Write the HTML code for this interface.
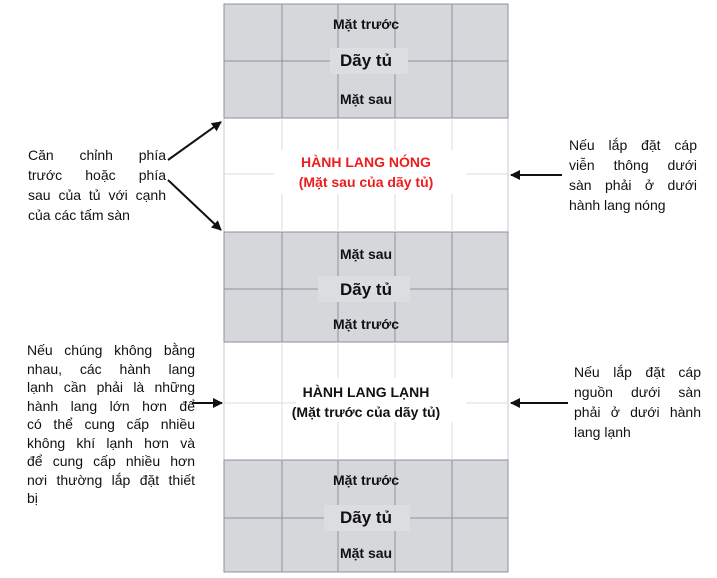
<!DOCTYPE html>
<html><head><meta charset="utf-8"><style>
body{margin:0;width:717px;height:578px;background:#fff;position:relative;overflow:hidden;font-family:"Liberation Sans",Arial,sans-serif;}
.t{position:absolute;font-size:14px;color:#111;}
.t div{height:20px;line-height:20px;text-align:justify;text-align-last:justify;white-space:nowrap;}
.t div.l{text-align-last:left;}
.t.s div{height:18.5px;line-height:18.5px;}
.c{position:absolute;left:224px;width:284px;text-align:center;font-weight:bold;color:#111;}
</style></head><body>
<svg width="717" height="578" style="position:absolute;left:0;top:0">
<defs><marker id="a" markerWidth="10" markerHeight="10" refX="9" refY="5" orient="auto" markerUnits="userSpaceOnUse"><path d="M0,0 L10,5 L0,10 z" fill="#111"/></marker></defs>
<rect x="224" y="4" width="284" height="568" fill="#fff" stroke="#c8cad0"/>
<rect x="224" y="4" width="284" height="114" fill="#d5d7db" stroke="#8e929b"/>
<rect x="224" y="232" width="284" height="110" fill="#d5d7db" stroke="#8e929b"/>
<rect x="224" y="460" width="284" height="112" fill="#d5d7db" stroke="#8e929b"/>
<g stroke="#8e929b" stroke-width="1">
<line x1="282" y1="4" x2="282" y2="118"/><line x1="338" y1="4" x2="338" y2="118"/><line x1="395" y1="4" x2="395" y2="118"/><line x1="452" y1="4" x2="452" y2="118"/>
<line x1="282" y1="232" x2="282" y2="342"/><line x1="338" y1="232" x2="338" y2="342"/><line x1="395" y1="232" x2="395" y2="342"/><line x1="452" y1="232" x2="452" y2="342"/>
<line x1="282" y1="460" x2="282" y2="572"/><line x1="338" y1="460" x2="338" y2="572"/><line x1="395" y1="460" x2="395" y2="572"/><line x1="452" y1="460" x2="452" y2="572"/>
<line x1="224" y1="61" x2="508" y2="61"/><line x1="224" y1="289" x2="508" y2="289"/><line x1="224" y1="518" x2="508" y2="518"/>
</g>
<g stroke="#dcdee4" stroke-width="1">
<line x1="282" y1="118" x2="282" y2="232"/><line x1="338" y1="118" x2="338" y2="232"/><line x1="395" y1="118" x2="395" y2="232"/><line x1="452" y1="118" x2="452" y2="232"/>
<line x1="282" y1="342" x2="282" y2="460"/><line x1="338" y1="342" x2="338" y2="460"/><line x1="395" y1="342" x2="395" y2="460"/><line x1="452" y1="342" x2="452" y2="460"/>
<line x1="224" y1="174" x2="508" y2="174"/><line x1="224" y1="403" x2="508" y2="403"/>
</g>
<rect x="274" y="150" width="192" height="44" fill="#fff"/>
<rect x="296" y="378" width="170" height="44" fill="#fff"/>
<rect x="330" y="48" width="78" height="26" fill="#dcdde0"/>
<rect x="318" y="276" width="92" height="26" fill="#dcdde0"/>
<rect x="324" y="505" width="86" height="26" fill="#dcdde0"/>
<g stroke="#111" stroke-width="2" fill="none">
<line x1="168" y1="160" x2="221" y2="122" marker-end="url(#a)"/>
<line x1="168" y1="180" x2="221" y2="230" marker-end="url(#a)"/>
<line x1="562" y1="175" x2="511" y2="175" marker-end="url(#a)"/>
<line x1="568" y1="403" x2="511" y2="403" marker-end="url(#a)"/>
<line x1="192" y1="403" x2="222" y2="403" marker-end="url(#a)"/>
</g>
</svg>
<div class="c" style="top:16px;font-size:14px">Mặt trước</div>
<div class="c" style="top:51px;font-size:17px">Dãy tủ</div>
<div class="c" style="top:91px;font-size:14px">Mặt sau</div>
<div class="c" style="top:152px;font-size:14px;color:#ee1c1c;line-height:20px">HÀNH LANG NÓNG<br>(Mặt sau của dãy tủ)</div>
<div class="c" style="top:246px;font-size:14px">Mặt sau</div>
<div class="c" style="top:280px;font-size:17px">Dãy tủ</div>
<div class="c" style="top:316px;font-size:14px">Mặt trước</div>
<div class="c" style="top:382px;font-size:14px;line-height:20px">HÀNH LANG LẠNH<br>(Mặt trước của dãy tủ)</div>
<div class="c" style="top:472px;font-size:14px">Mặt trước</div>
<div class="c" style="top:508px;font-size:17px">Dãy tủ</div>
<div class="c" style="top:545px;font-size:14px">Mặt sau</div>

<div class="t" style="left:28px;top:145px;width:138px">
<div>Căn chỉnh phía</div><div>trước hoặc phía</div><div>sau của tủ với cạnh</div><div class="l">của các tấm sàn</div></div>
<div class="t s" style="left:27px;top:341px;width:168px">
<div>Nếu chúng không bằng</div><div>nhau, các hành lang</div><div>lạnh cần phải là những</div><div>hành lang lớn hơn để</div><div>có thể cung cấp nhiều</div><div>không khí lạnh hơn và</div><div>để cung cấp nhiều hơn</div><div>nơi thường lắp đặt thiết</div><div class="l">bị</div></div>
<div class="t" style="left:569px;top:135px;width:128px">
<div>Nếu lắp đặt cáp</div><div>viễn thông dưới</div><div>sàn phải ở dưới</div><div class="l">hành lang nóng</div></div>
<div class="t" style="left:574px;top:362px;width:127px">
<div>Nếu lắp đặt cáp</div><div>nguồn dưới sàn</div><div>phải ở dưới hành</div><div class="l">lang lạnh</div></div>
</body></html>
